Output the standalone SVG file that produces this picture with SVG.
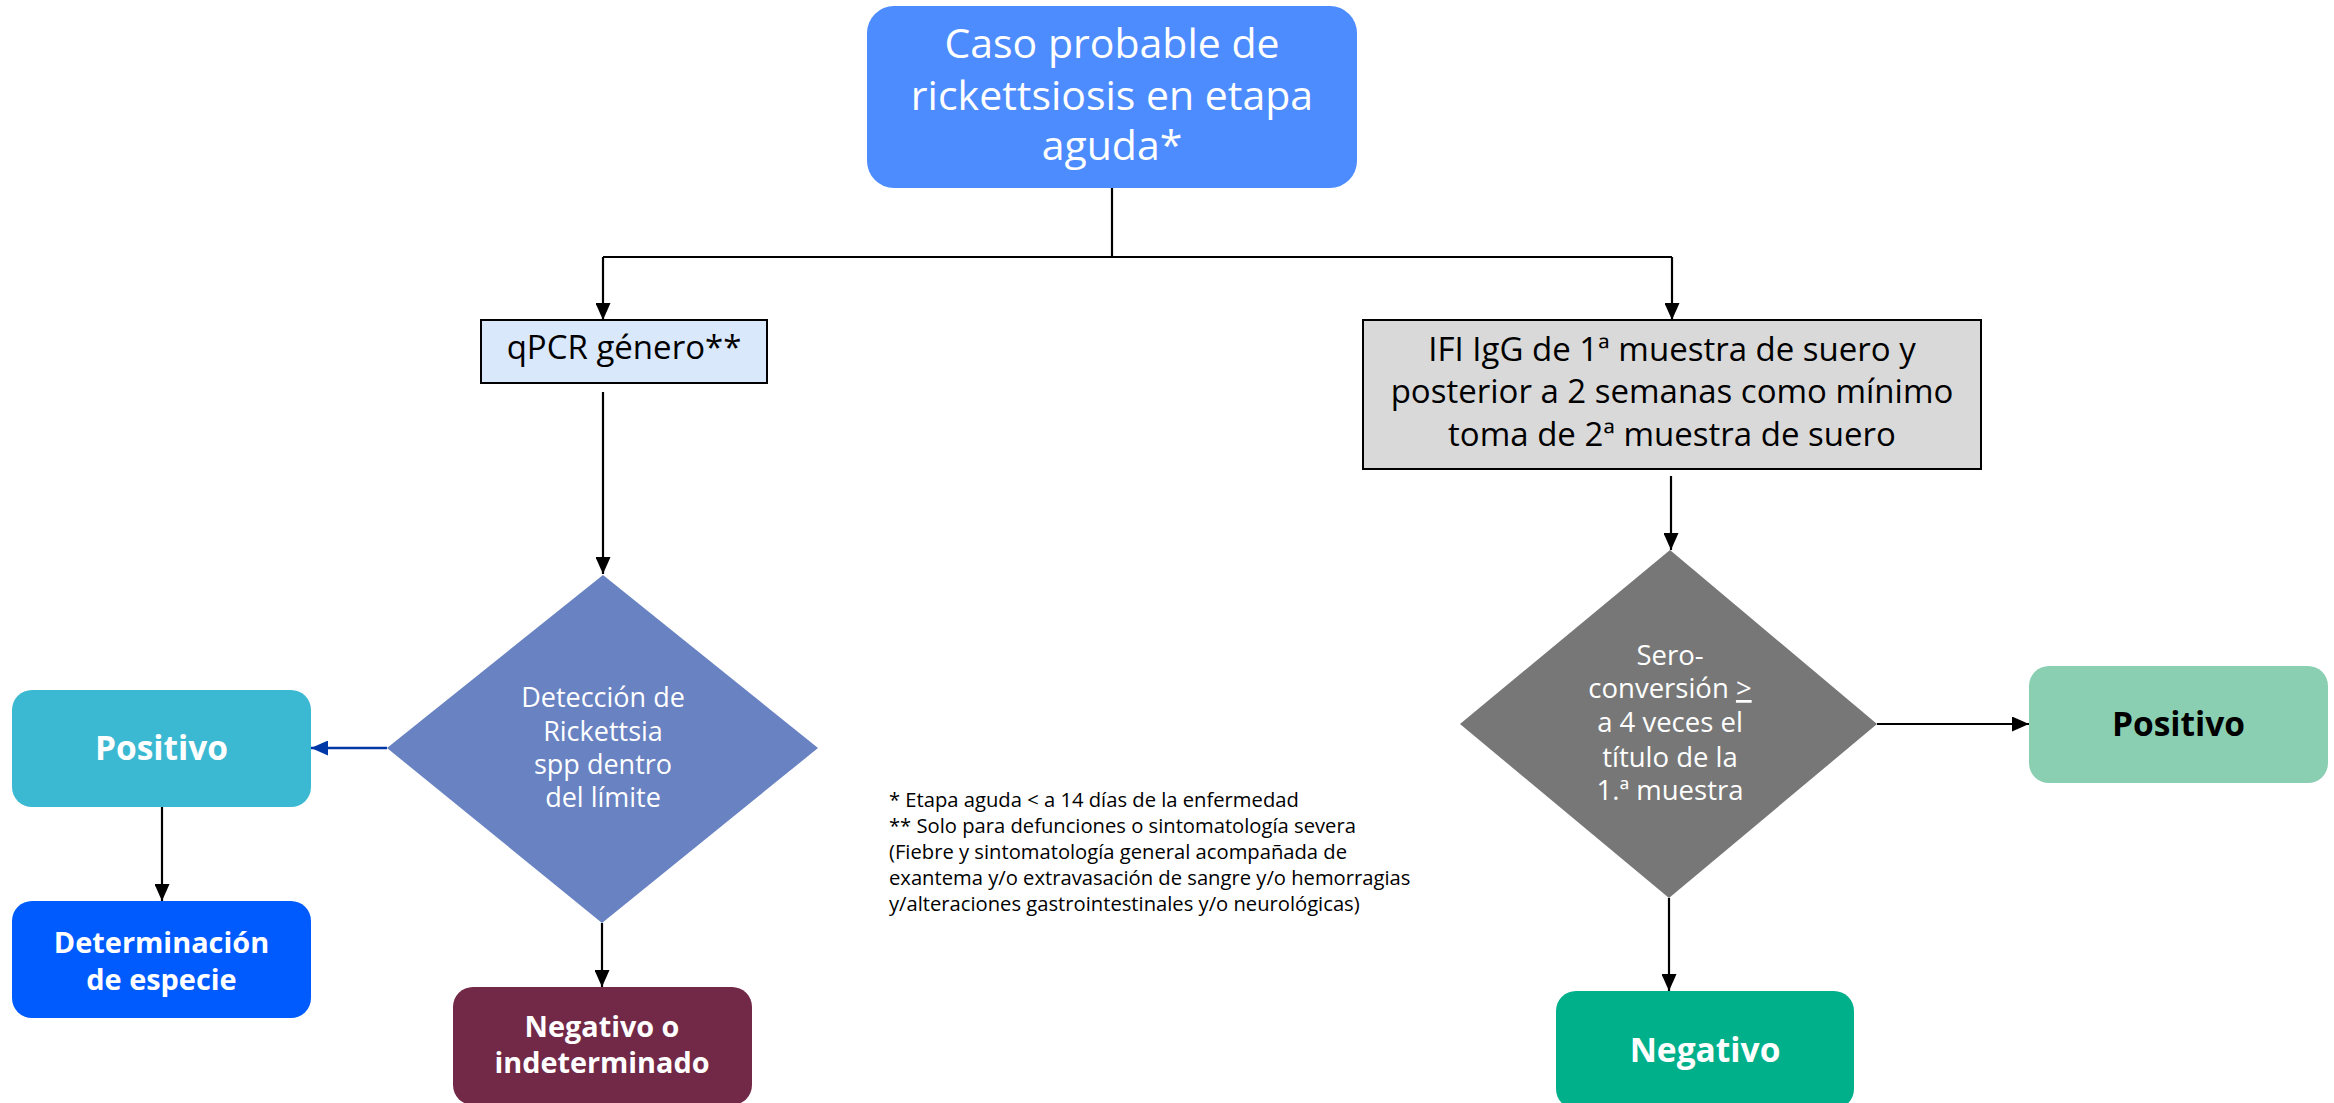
<svg xmlns="http://www.w3.org/2000/svg" width="2334" height="1103" viewBox="0 0 2334 1103">
<defs>
<style>
.t{font-family:"Open Sans","Noto Sans","Liberation Sans",sans-serif;text-anchor:middle}
.w{fill:#ffffff}
.k{fill:#000000}
.b{font-weight:bold}
.ln{fill:none;stroke:#000;stroke-width:2.2}
.fn{font-family:"Open Sans","Noto Sans","Liberation Sans",sans-serif;font-size:20.2px;fill:#000}
</style>
<marker id="ah" markerUnits="userSpaceOnUse" markerWidth="17" markerHeight="15" refX="17" refY="7.5" orient="auto">
<path d="M0,0 L17,7.5 L0,15 z" fill="#000"/>
</marker>
<marker id="ahb" markerUnits="userSpaceOnUse" markerWidth="17" markerHeight="15" refX="17" refY="7.5" orient="auto">
<path d="M0,0 L17,7.5 L0,15 z" fill="#0038a8"/>
</marker>
</defs>
<rect width="2334" height="1103" fill="#ffffff"/>

<g id="connectors">
<path class="ln" d="M1112,188 V257"/>
<path class="ln" d="M603,257 H1672"/>
<path class="ln" d="M603,257 V320" marker-end="url(#ah)"/>
<path class="ln" d="M1672,257 V320" marker-end="url(#ah)"/>
<path class="ln" d="M603,392 V574" marker-end="url(#ah)"/>
<path d="M387,748 H311" fill="none" stroke="#0038a8" stroke-width="2.5" marker-end="url(#ahb)"/>
<path class="ln" d="M162,807 V901" marker-end="url(#ah)"/>
<path class="ln" d="M602,923 V987" marker-end="url(#ah)"/>
<path class="ln" d="M1671,476 V550" marker-end="url(#ah)"/>
<path class="ln" d="M1877,724 H2029" marker-end="url(#ah)"/>
<path class="ln" d="M1669,898 V991" marker-end="url(#ah)"/>
</g>

<g id="inicio">
<rect x="867" y="6" width="490" height="182" rx="27" fill="#4d8cff"/>
<text class="t w" font-size="41"><tspan x="1112" y="58">Caso probable de</tspan><tspan x="1112" y="110">rickettsiosis en etapa</tspan><tspan x="1112" y="160">aguda*</tspan></text>
</g>

<g id="qpcr">
<rect x="481" y="320" width="286" height="63" fill="#dae8fc" stroke="#000" stroke-width="2"/>
<text class="t k" font-size="33" x="624" y="359">qPCR género**</text>
</g>

<g id="ifi">
<rect x="1363" y="320" width="618" height="149" fill="#d9d9d9" stroke="#000" stroke-width="2"/>
<text class="t k" font-size="33"><tspan x="1672" y="361">IFI IgG de 1ª muestra de suero y</tspan><tspan x="1672" y="403">posterior a 2 semanas como mínimo</tspan><tspan x="1672" y="446">toma de 2ª muestra de suero</tspan></text>
</g>

<g id="deteccion">
<polygon points="603,575 818,748 602,923 387,748" fill="#6882c2"/>
<text class="t w" font-size="27"><tspan x="603" y="707">Detección de</tspan><tspan x="603" y="741">Rickettsia</tspan><tspan x="603" y="774">spp dentro</tspan><tspan x="603" y="807">del límite</tspan></text>
</g>

<g id="seroconversion">
<polygon points="1670,550 1877,724 1669,898 1460,724" fill="#777777"/>
<text class="t w" font-size="27.5"><tspan x="1670" y="665">Sero-</tspan><tspan x="1670" y="698">conversión <tspan text-decoration="underline">&gt;</tspan></tspan><tspan x="1670" y="732">a 4 veces el</tspan><tspan x="1670" y="767">título de la</tspan><tspan x="1670" y="800">1.ª muestra</tspan></text>
</g>

<g id="positivo-pcr">
<rect x="12" y="690" width="299" height="117" rx="20" fill="#3cb9d2"/>
<text class="t w b" font-size="33.5" x="161.5" y="760">Positivo</text>
</g>

<g id="especie">
<rect x="12" y="901" width="299" height="117" rx="20" fill="#005bff"/>
<text class="t w b" font-size="28.9"><tspan x="161.5" y="953">Determinación</tspan><tspan x="161.5" y="990">de especie</tspan></text>
</g>

<g id="negativo-pcr">
<rect x="453" y="987" width="299" height="118" rx="20" fill="#722947"/>
<text class="t w b" font-size="28.8"><tspan x="602" y="1037">Negativo o</tspan><tspan x="602" y="1073">indeterminado</tspan></text>
</g>

<g id="positivo-ifi">
<rect x="2029" y="666" width="299" height="117" rx="20" fill="#8bcfb3"/>
<text class="t k b" font-size="33.5" x="2178.5" y="736">Positivo</text>
</g>

<g id="negativo-ifi">
<rect x="1556" y="991" width="298" height="118" rx="20" fill="#00b08b"/>
<text class="t w b" font-size="33.5" x="1705" y="1062">Negativo</text>
</g>

<g id="notas">
<text class="fn"><tspan x="889" y="807">* Etapa aguda &lt; a 14 días de la enfermedad</tspan><tspan x="889" y="833">** Solo para defunciones o sintomatología severa</tspan><tspan x="889" y="859">(Fiebre y sintomatología general acompañada de</tspan><tspan x="889" y="885">exantema y/o extravasación de sangre y/o hemorragias</tspan><tspan x="889" y="911">y/alteraciones gastrointestinales y/o neurológicas)</tspan></text>
</g>
</svg>
